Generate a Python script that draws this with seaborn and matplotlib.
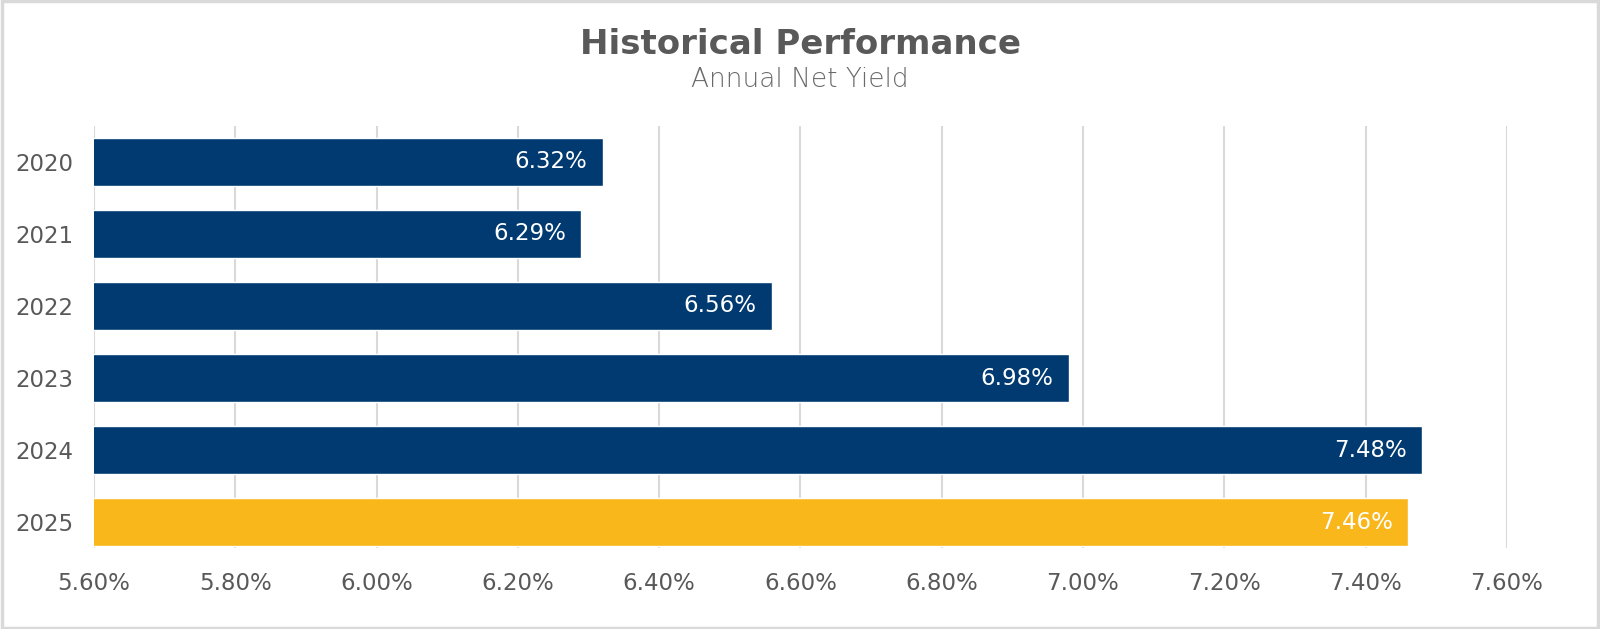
import matplotlib
matplotlib.use("Agg")
import matplotlib.pyplot as plt
import matplotlib.patches as mpatches
import pandas as pd
import seaborn as sns
from matplotlib.ticker import FuncFormatter

years = ["2020", "2021", "2022", "2023", "2024", "2025"]
net_yield = [6.32, 6.29, 6.56, 6.98, 7.48, 7.46]
bar_group = ["past", "past", "past", "past", "past", "current"]
x_ticks = [5.6, 5.8, 6.0, 6.2, 6.4, 6.6, 6.8, 7.0, 7.2, 7.4, 7.6]

NAVY = "#003a70"
GOLD = "#f9b71b"
TEXT = "#595959"
GRID = "#d9d9d9"

df = pd.DataFrame({"year": years, "yield": net_yield, "group": bar_group})

sns.set_style("white")
plt.rcParams["font.family"] = ["DejaVu Sans"]

fig = plt.figure(figsize=(16, 6.29), dpi=100)
ax = fig.add_axes([0.05875, 0.1288, 0.883, 0.671])

sns.barplot(data=df, x="yield", y="year", hue="group", order=years,
            palette={"past": NAVY, "current": GOLD}, width=0.667, saturation=1,
            dodge=False, legend=False, ax=ax, orient="h")

ax.set_xlim(5.6, 7.6)
ax.set_ylim(5.36, -0.5)
ax.set_xticks(x_ticks)
ax.xaxis.set_major_formatter(FuncFormatter(lambda v, _: f"{v:.2f}%"))
ax.set_xlabel("")
ax.set_ylabel("")
ax.grid(axis="x", color=GRID, linewidth=1.5)
ax.set_axisbelow(True)
for side in ["top", "right", "bottom", "left"]:
    ax.spines[side].set_visible(False)
ax.tick_params(axis="both", length=0, labelsize=16.5, colors=TEXT)
ax.tick_params(axis="x", pad=17)
ax.tick_params(axis="y", pad=15)

for i, v in enumerate(net_yield):
    ax.annotate(f"{v:.2f}%", xy=(v, i), xytext=(-11, 0), textcoords="offset points",
                ha="right", va="center", color="white", fontsize=16.5)

fig.text(0.5, 0.93, "Historical Performance", ha="center", va="center",
         fontsize=24.5, fontweight="bold", color=TEXT)
fig.text(0.5, 0.873, "Annual Net Yield", ha="center", va="center",
         fontsize=19, fontweight="light", color="#6a6a6a")

fig.patches.append(mpatches.Rectangle((0.001, 0.002), 0.998, 0.996, transform=fig.transFigure,
                                      fill=False, edgecolor=GRID, linewidth=2.5))

fig.savefig("out.png", dpi=100)
plt.close(fig)
